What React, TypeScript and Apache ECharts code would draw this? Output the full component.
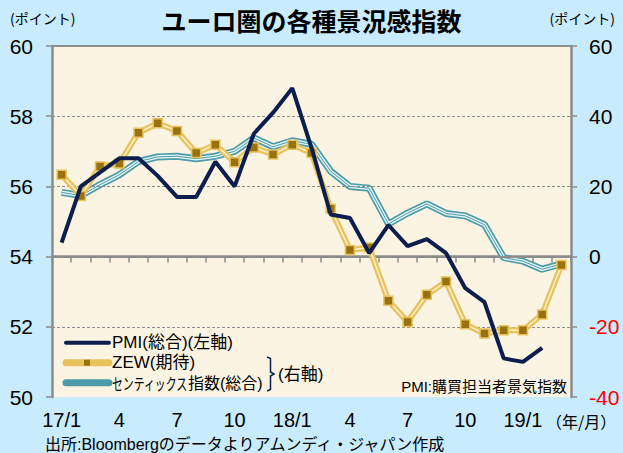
import React, { useEffect, useRef } from 'react';
import * as echarts from 'echarts';

const categories = [
  '17/1', '2', '3', '4', '5', '6', '7', '8', '9', '10', '11', '12',
  '18/1', '2', '3', '4', '5', '6', '7', '8', '9', '10', '11', '12',
  '19/1', '2', '3',
];
const pmi = [
  54.4, 56.0, 56.4, 56.8, 56.8, 56.3, 55.7, 55.7, 56.7, 56.0, 57.5, 58.1,
  58.8, 57.1, 55.2, 55.1, 54.1, 54.9, 54.3, 54.5, 54.1, 53.1, 52.7, 51.1,
  51.0, 51.4, null,
];
const zew = [
  23.3, 17.3, 25.7, 26.5, 35.3, 38.0, 35.8, 29.5, 31.9, 26.9, 31.1, 29.1,
  31.9, 29.5, 13.6, 1.9, 2.6, -12.6, -18.6, -10.9, -7.1, -19.3, -21.9, -21.0,
  -21.0, -16.5, -2.4,
];
const sentix = [
  18.3, 17.4, 20.5, 23.3, 27.1, 28.4, 28.6, 27.9, 28.6, 30.0, 33.8, 31.3,
  33.0, 32.0, 24.3, 20.0, 19.5, 9.3, 12.4, 15.0, 12.3, 11.6, 9.1, -0.3,
  -1.3, -3.6, -2.1,
];
const dottedLines = [52, 56, 58];
const solidLines = [54, 60];

const FONT = "'Liberation Sans', 'Noto Sans CJK JP', sans-serif";
const JP = "'Noto Sans CJK JP', sans-serif";
const GRAY = '#8c8c8c';
const NAVY = '#0b1e4e';
const GOLD = '#e8c25d';
const TEAL = '#4b9bab';

export default function App() {
  const ref = useRef<HTMLDivElement>(null);
  useEffect(() => {
    const chart = echarts.init(ref.current!, null, { renderer: 'svg' });
    chart.setOption({
      animation: false,
      backgroundColor: '#c8ecfd',
      grid: {
        left: 52, right: 52, top: 46, bottom: 56,
        show: true, backgroundColor: '#fcf4e2', borderWidth: 0,
      },
      xAxis: {
        type: 'category',
        data: categories,
        boundaryGap: true,
        axisLine: { lineStyle: { color: GRAY, width: 2.5 } },
        axisTick: { show: true, interval: 0, length: 6, lineStyle: { color: GRAY, width: 1.5 } },
        axisLabel: { interval: 2, fontSize: 20, color: '#000', margin: 13, fontFamily: FONT },
        splitLine: { show: false },
      },
      yAxis: [
        {
          type: 'value', min: 50, max: 60, interval: 2, position: 'left',
          axisLine: { show: true, lineStyle: { color: GRAY, width: 2.5 } },
          axisTick: { show: true, length: 6, lineStyle: { color: GRAY, width: 1.5 } },
          axisLabel: { fontSize: 21, color: '#000', margin: 19, fontFamily: FONT },
          splitLine: { show: false },
        },
        {
          type: 'value', min: -40, max: 60, interval: 20, position: 'right',
          axisLine: { show: true, lineStyle: { color: GRAY, width: 2.5 } },
          axisTick: { show: true, length: 6, lineStyle: { color: GRAY, width: 1.5 } },
          axisLabel: {
            fontSize: 21, margin: 18, fontFamily: FONT,
            color: (v: any) => (Number(v) < 0 ? '#ff0000' : '#000'),
          },
          splitLine: { show: false },
        },
      ],
      series: [
        {
          type: 'line', yAxisIndex: 0, data: pmi, symbol: 'none', silent: true, z: 1,
          lineStyle: { opacity: 0 },
          markLine: {
            silent: true, symbol: ['none', 'none'], label: { show: false },
            data: [
              ...dottedLines.map((v) => ({ yAxis: v, lineStyle: { color: GRAY, width: 1.2, type: [3, 2] } })),
              ...solidLines.map((v) => ({ yAxis: v, lineStyle: { color: GRAY, width: 2.2, type: 'solid' } })),
            ],
          },
        },
        { type: 'line', yAxisIndex: 1, data: sentix, symbol: 'none', z: 2, lineStyle: { color: TEAL, width: 7 } },
        { type: 'line', yAxisIndex: 1, data: sentix, symbol: 'none', z: 3, lineStyle: { color: '#e4f4f4', width: 3.6 } },
        { type: 'line', yAxisIndex: 1, data: sentix, symbol: 'none', z: 4, lineStyle: { color: TEAL, width: 1 } },
        { type: 'line', yAxisIndex: 1, data: zew, symbol: 'none', z: 5, lineStyle: { color: GOLD, width: 6 } },
        { type: 'line', yAxisIndex: 1, data: zew, symbol: 'none', z: 6, lineStyle: { color: '#fbf0cf', width: 1.5 } },
        {
          type: 'line', yAxisIndex: 1, data: zew, z: 7,
          symbol: 'rect', symbolSize: 9,
          lineStyle: { width: 0, opacity: 0 },
          itemStyle: { color: '#98720f', borderColor: GOLD, borderWidth: 1.5 },
        },
        { type: 'line', yAxisIndex: 0, data: pmi, symbol: 'none', z: 8, lineStyle: { color: NAVY, width: 4 } },
      ],
      graphic: [
        {
          type: 'text', x: 311.5, y: 20, z: 100,
          style: { text: 'ユーロ圏の各種景況感指数', font: `bold 25px ${JP}`, fill: '#000', align: 'center', verticalAlign: 'middle' },
        },
        {
          type: 'text', x: 10, y: 18, z: 100,
          style: { text: '(ポイント)', font: `14px ${JP}`, fill: '#000', align: 'left', verticalAlign: 'middle' },
        },
        {
          type: 'text', x: 615, y: 18, z: 100,
          style: { text: '(ポイント)', font: `14px ${JP}`, fill: '#000', align: 'right', verticalAlign: 'middle' },
        },
        {
          type: 'text', x: 546, y: 421, z: 100,
          style: { text: '（年/月）', font: `16px ${JP}`, fill: '#000', align: 'left', verticalAlign: 'middle' },
        },
        {
          type: 'text', x: 45, y: 444, z: 100,
          style: { text: '出所:Bloombergのデータよりアムンディ・ジャパン作成', font: `16px ${FONT}`, fill: '#000', align: 'left', verticalAlign: 'middle' },
        },
        {
          type: 'text', x: 567, y: 386, z: 100,
          style: { text: 'PMI:購買担当者景気指数', font: `15px ${FONT}`, fill: '#000', align: 'right', verticalAlign: 'middle' },
        },
        // legend
        {
          type: 'line', z: 100, shape: { x1: 66, y1: 342.7, x2: 109, y2: 342.7 },
          style: { stroke: NAVY, lineWidth: 4, lineCap: 'round' },
        },
        {
          type: 'line', z: 100, shape: { x1: 66, y1: 362.7, x2: 109, y2: 362.7 },
          style: { stroke: GOLD, lineWidth: 7, lineCap: 'round' },
        },
        {
          type: 'rect', z: 101, shape: { x: 84, y: 359.7, width: 6, height: 6 },
          style: { fill: '#98720f' },
        },
        {
          type: 'line', z: 100, shape: { x1: 66, y1: 382.7, x2: 109, y2: 382.7 },
          style: { stroke: TEAL, lineWidth: 7, lineCap: 'round' },
        },
        {
          type: 'text', x: 112, y: 342.5, z: 100,
          style: { text: 'PMI(総合)(左軸)', font: `17px ${FONT}`, fill: '#000', align: 'left', verticalAlign: 'middle' },
        },
        {
          type: 'text', x: 112, y: 362.5, z: 100,
          style: { text: 'ZEW(期待)', font: `17px ${FONT}`, fill: '#000', align: 'left', verticalAlign: 'middle' },
        },
        {
          type: 'text', x: 112, y: 383, z: 100, scaleX: 0.68,
          style: { text: 'センティックス', font: `16px ${JP}`, fill: '#000', align: 'left', verticalAlign: 'middle' },
        },
        {
          type: 'text', x: 188, y: 383, z: 100,
          style: { text: '指数(総合)', font: `16px ${FONT}`, fill: '#000', align: 'left', verticalAlign: 'middle' },
        },
        {
          type: 'polyline', z: 100,
          shape: { points: [[267, 357], [270.5, 358.5], [270.5, 372], [274, 374], [270.5, 376], [270.5, 389.5], [267, 391]] },
          style: { stroke: NAVY, lineWidth: 1.5, fill: 'none' },
        },
        {
          type: 'text', x: 278, y: 374, z: 100,
          style: { text: '(右軸)', font: `17px ${FONT}`, fill: '#000', align: 'left', verticalAlign: 'middle' },
        },
      ],
    });
    return () => chart.dispose();
  }, []);
  return <div ref={ref} style={{ position: 'fixed', left: 0, top: 0, width: 623, height: 453 }} />;
}
